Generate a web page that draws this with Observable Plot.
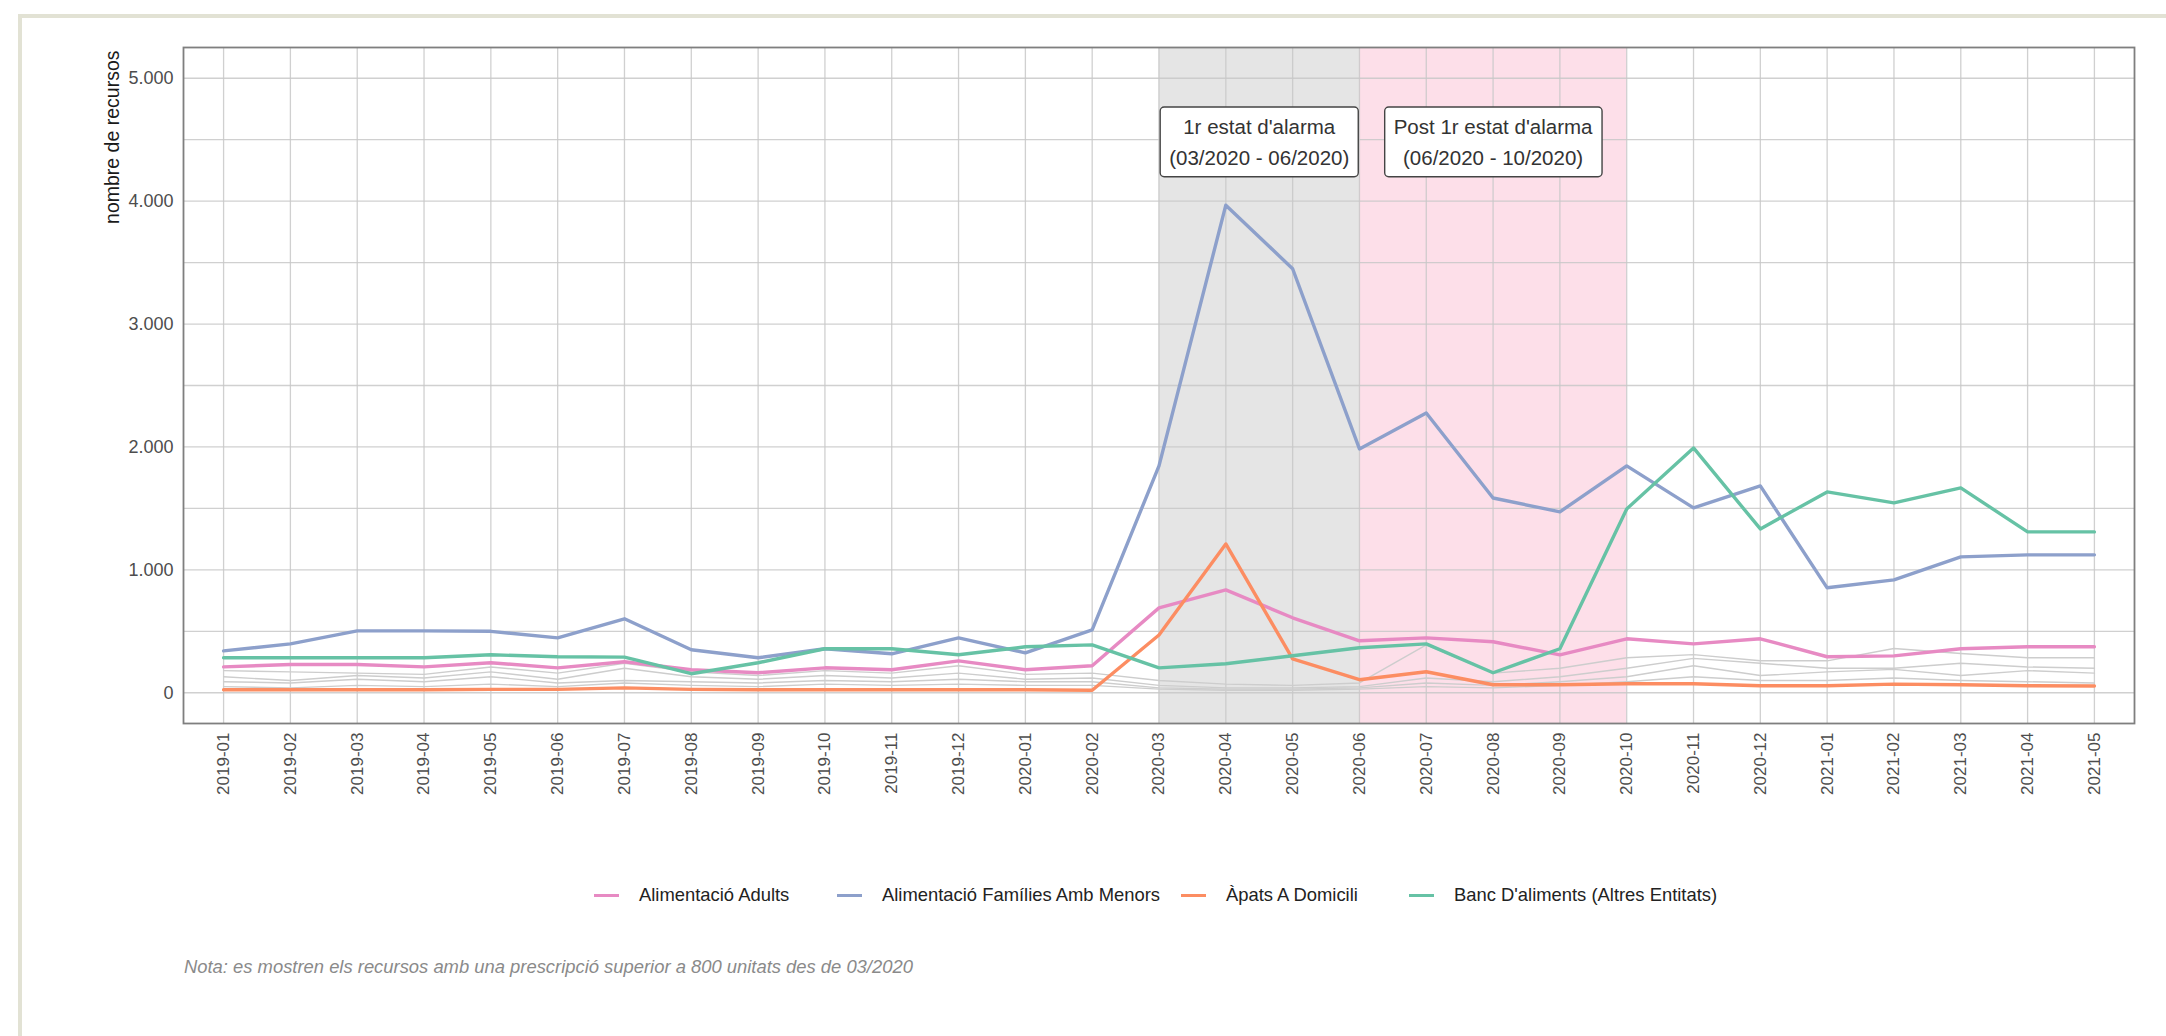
<!DOCTYPE html>
<html>
<head>
<meta charset="utf-8">
<script src="https://cdn.jsdelivr.net/npm/d3@7"></script>
<script src="https://cdn.jsdelivr.net/npm/@observablehq/plot@0.6"></script>
<style>
  html, body { margin: 0; padding: 0; background: #ffffff; }
  body { width: 2166px; height: 1036px; position: relative; overflow: hidden; font-family: "Liberation Sans", Arial, sans-serif; }
  #frame { position: absolute; left: 18px; top: 14px; width: 2200px; height: 1100px; border-left: 4px solid #e2e2d4; border-top: 4px solid #e2e2d4; box-sizing: border-box; }
  #chart { position: absolute; left: 0; top: 0; }
  #legend { position: absolute; left: 0; top: 880px; width: 2166px; height: 30px; font-size: 18.4px; color: #222; }
  .item { position: absolute; top: 0; height: 30px; display: flex; align-items: center; white-space: nowrap; }
  .sw { width: 25px; height: 3px; margin-right: 20px; }
  #note { position: absolute; left: 184px; top: 956px; font-size: 18.4px; font-style: italic; color: #8a8a8a; }
</style>
</head>
<body>
<div id="frame"></div>
<div id="chart"></div>
<div id="legend"></div>
<div id="note">Nota: es mostren els recursos amb una prescripció superior a 800 unitats des de 03/2020</div>
<script>
// ---- data ----
const months = ["2019-01","2019-02","2019-03","2019-04","2019-05","2019-06","2019-07","2019-08","2019-09","2019-10","2019-11","2019-12","2020-01","2020-02","2020-03","2020-04","2020-05","2020-06","2020-07","2020-08","2020-09","2020-10","2020-11","2020-12","2021-01","2021-02","2021-03","2021-04","2021-05"];

const seriesNames = ["Alimentació Adults", "Alimentació Famílies Amb Menors", "Àpats A Domicili", "Banc D'aliments (Altres Entitats)"];

const adults   = [211,230,230,211,244,203,252,187,163,203,187,260,187,220,691,837,610,423,447,415,309,439,398,439,293,300,358,374,374];
const families = [341,398,504,504,500,447,602,350,285,358,317,447,325,512,1846,3967,3450,1984,2276,1585,1472,1846,1504,1683,854,919,1106,1122,1122];
const apats    = [24,24,24,24,28,28,40,28,24,24,24,24,24,20,470,1211,276,106,171,65,65,73,73,57,57,70,65,57,55];
const banc     = [285,285,285,285,309,293,290,155,244,358,358,309,374,390,203,236,301,366,398,163,358,1496,1992,1333,1634,1545,1667,1309,1309];

// other resources (grey background lines)
const otherA = [180,170,160,150,210,160,240,170,140,180,160,220,150,160,100,70,60,80,390,160,200,285,310,260,260,360,320,285,285];
const otherB = [130,100,140,120,170,110,200,130,110,140,120,160,110,120,60,40,40,50,120,90,130,200,280,240,200,200,240,210,200];
const otherC = [90,80,110,90,130,80,100,90,80,100,90,110,90,90,40,30,30,40,80,60,90,130,220,140,170,190,140,180,160];
const otherD = [50,40,60,50,70,50,80,60,50,70,60,70,60,60,30,20,20,30,50,40,60,90,130,100,100,120,100,90,80];

const yTicks = [0, 1000, 2000, 3000, 4000, 5000];
const yGrid = [0, 500, 1000, 1500, 2000, 2500, 3000, 3500, 4000, 4500, 5000];

const periods = [
  {start: "2020-03", end: "2020-06", label: "1r estat d'alarma\n(03/2020 - 06/2020)"},
  {start: "2020-06", end: "2020-10", label: "Post 1r estat d'alarma\n(06/2020 - 10/2020)"}
];

// ---- build tables ----
const mainValues = [adults, families, apats, banc];
const mainRows = [];
mainValues.forEach((vals, s) => vals.forEach((v, i) => mainRows.push({name: seriesNames[s], month: i, value: v})));
const greyRows = [];
[otherA, otherB, otherC, otherD].forEach((vals, s) => vals.forEach((v, i) => greyRows.push({name: "other" + s, month: i, value: v})));
const idx = m => months.indexOf(m);
const colors = ["#e78ac3", "#8da0cb", "#fc8d62", "#66c2a5"];
const periodFills = ["#e5e5e5", "#fddfe9"];
const locale = d3.formatLocale({decimal: ",", thousands: ".", grouping: [3], currency: ["", "€"]});
const fmt = locale.format(",");

const chart = Plot.plot({
  width: 2166,
  height: 808,
  marginLeft: 183,
  marginRight: 32,
  marginTop: 47,
  marginBottom: 85,
  style: {fontFamily: "'Liberation Sans', Arial, sans-serif", fontSize: "17px", background: "transparent"},
  x: {domain: [-0.6, months.length - 1 + 0.6]},
  y: {domain: [-250, 5250]},
  color: {domain: seriesNames, range: colors},
  marks: [
    Plot.rect(periods, {x1: d => idx(d.start), x2: d => idx(d.end), fill: (d, i) => periodFills[i]}),
    Plot.ruleY(yGrid, {stroke: "#c8c8c8", strokeOpacity: 0.85, strokeWidth: 1.3}),
    Plot.ruleX(months.map((m, i) => i), {stroke: "#c8c8c8", strokeOpacity: 0.85, strokeWidth: 1.3}),
    Plot.frame({stroke: "#7f7f7f", strokeWidth: 1.8}),
    Plot.axisX({ticks: months.map((m, i) => i), tickFormat: i => months[i], tickRotate: -90, tickSize: 0, tickPadding: 9, fontSize: 17, fill: "#4d4d4d", label: null}),
    Plot.axisY({ticks: yTicks, tickFormat: fmt, tickSize: 0, tickPadding: 10, fontSize: 18, fill: "#4d4d4d", label: null}),
    Plot.text(["nombre de recursos"], {frameAnchor: "top-left", rotate: -90, textAnchor: "end", lineAnchor: "middle", dx: -71, dy: 3, fontSize: 19.5, fill: "#1a1a1a"}),
    Plot.line(greyRows, {x: "month", y: "value", z: "name", stroke: "#cdcdcd", strokeWidth: 1.4}),
    Plot.line(mainRows, {x: "month", y: "value", stroke: "name", strokeWidth: 3.4}),
    Plot.text(periods, {x: d => (idx(d.start) + idx(d.end)) / 2, text: "label", frameAnchor: "top", dy: 92, lineAnchor: "middle", lineHeight: 1.5, fontFamily: "'Liberation Sans', Arial, sans-serif", fontSize: 20.5, fill: "#333"})
  ]
});
document.getElementById("chart").appendChild(chart);

// boxes behind the period labels
const textGroups = chart.querySelectorAll('g[aria-label="text"]');
const labelGroup = textGroups[textGroups.length - 1];
labelGroup.querySelectorAll("text").forEach(t => {
  const b = t.getBBox();
  const padX = 9, padY = 8;
  const r = document.createElementNS("http://www.w3.org/2000/svg", "rect");
  r.setAttribute("x", b.x - padX);
  r.setAttribute("y", b.y - padY);
  r.setAttribute("width", b.width + 2 * padX);
  r.setAttribute("height", b.height + 2 * padY);
  r.setAttribute("rx", 4);
  r.setAttribute("fill", "white");
  r.setAttribute("stroke", "#444");
  r.setAttribute("stroke-width", 1.4);
  const tr = t.getAttribute("transform");
  if (tr) r.setAttribute("transform", tr);
  labelGroup.insertBefore(r, t);
});

// legend
const legendLeft = [594, 837, 1181, 1409];
const legend = document.getElementById("legend");
seriesNames.forEach((n, i) => {
  const it = document.createElement("div");
  it.className = "item";
  it.style.left = legendLeft[i] + "px";
  const sw = document.createElement("div");
  sw.className = "sw";
  sw.style.background = colors[i];
  const tx = document.createElement("span");
  tx.textContent = n;
  it.appendChild(sw);
  it.appendChild(tx);
  legend.appendChild(it);
});
</script>
</body>
</html>
